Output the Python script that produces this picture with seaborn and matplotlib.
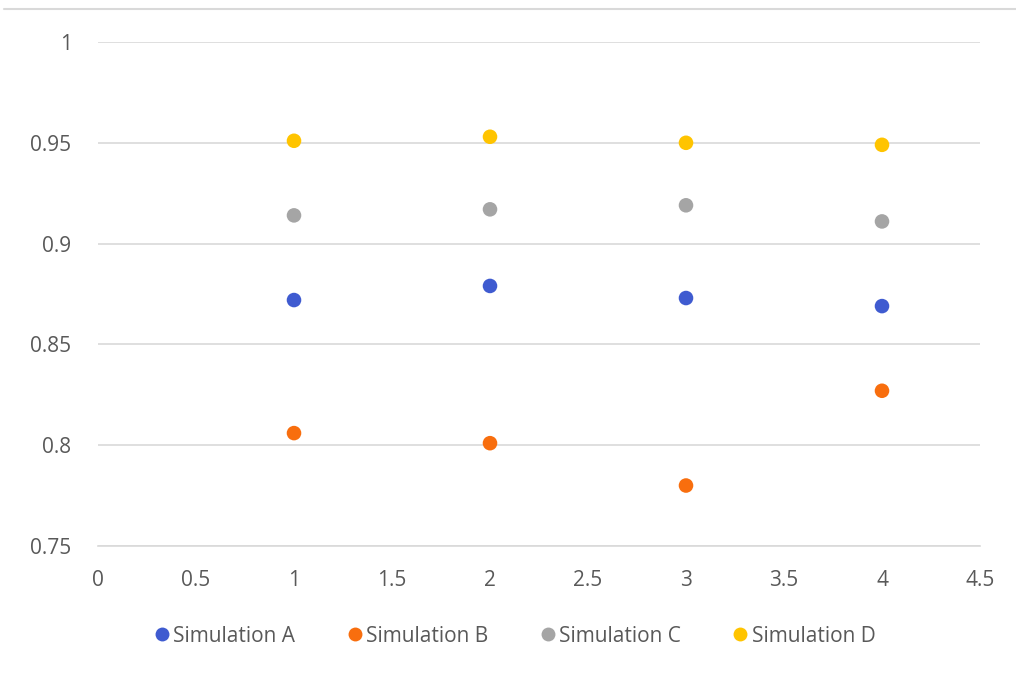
import matplotlib
matplotlib.use("Agg")
import matplotlib.pyplot as plt
from matplotlib.lines import Line2D
import seaborn as sns
import pandas as pd

# Run index and accuracy results for each simulation
runs = [1, 2, 3, 4]
sim_a = [0.872, 0.879, 0.873, 0.869]
sim_b = [0.806, 0.801, 0.780, 0.827]
sim_c = [0.914, 0.917, 0.919, 0.911]
sim_d = [0.951, 0.953, 0.950, 0.949]
series_names = ["Simulation A", "Simulation B", "Simulation C", "Simulation D"]
x_ticks = [0, 0.5, 1, 1.5, 2, 2.5, 3, 3.5, 4, 4.5]
y_ticks = [0.75, 0.8, 0.85, 0.9, 0.95, 1]
y_tick_labels = ["0.75", "0.8", "0.85", "0.9", "0.95", "1"]
x_tick_labels = ["0", "0.5", "1", "1.5", "2", "2.5", "3", "3.5", "4", "4.5"]

colors = ["#3F5BD0", "#F86E0E", "#A5A5A5", "#FFC400"]

df = pd.DataFrame({
    "run": runs * 4,
    "value": sim_a + sim_b + sim_c + sim_d,
    "series": [n for n in series_names for _ in runs],
})

sns.set_theme(style="white")
plt.rcParams["font.family"] = ["Open Sans", "DejaVu Sans"]

fig = plt.figure(figsize=(10.16, 6.79), dpi=100)
ax = fig.add_axes([98 / 1016, 1 - 546 / 679, (980 - 98) / 1016, (546 - 42) / 679])

sns.scatterplot(data=df, x="run", y="value", hue="series", palette=colors,
                s=110, edgecolor="none", legend=False, ax=ax, zorder=3)

ax.set_xlim(0, 4.5)
ax.set_ylim(0.75, 1.0)
ax.set_xticks(x_ticks)
ax.set_xticklabels(x_tick_labels)
ax.set_yticks(y_ticks)
ax.set_yticklabels(y_tick_labels)
ax.yaxis.grid(True, color="#D9D9D9", linewidth=1.2)
ax.xaxis.grid(False)
for side in ["left", "right", "top"]:
    ax.spines[side].set_visible(False)
ax.spines["bottom"].set_color("#D9D9D9")
ax.spines["bottom"].set_linewidth(1.2)
ax.set_xlabel("")
ax.set_ylabel("")
ax.tick_params(axis="both", length=0, labelsize=15, labelcolor="#595959")
ax.tick_params(axis="y", pad=19)
ax.tick_params(axis="x", pad=17)

# Chart area top border
fig.add_artist(Line2D([4 / 1016, 1.0], [1 - 9 / 679, 1 - 9 / 679],
                      color="#D9D9D9", linewidth=1.5))

handles = [Line2D([], [], marker="o", linestyle="none", markersize=10,
                  markerfacecolor=c, markeredgecolor="none") for c in colors]
fig.legend(handles, series_names, loc="center", bbox_to_anchor=(513 / 1016, 1 - 636 / 679),
           ncol=4, frameon=False, fontsize=15, labelcolor="#595959",
           handletextpad=0.0, columnspacing=2.3, handlelength=1.1)

fig.savefig("out.png", dpi=100, facecolor="white")
